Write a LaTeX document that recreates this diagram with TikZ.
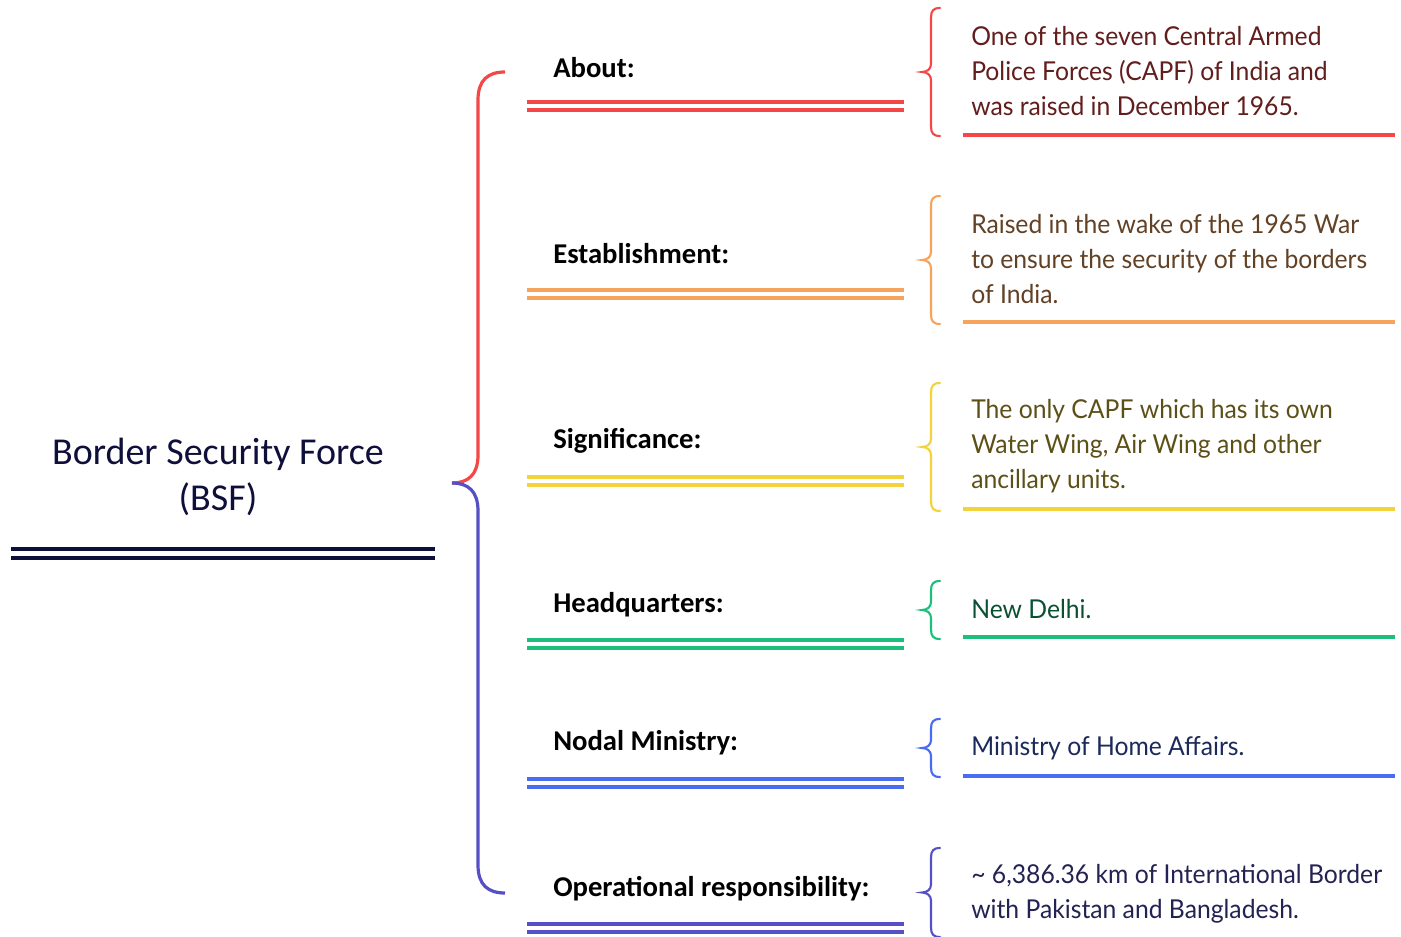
\documentclass[tikz,border=0pt]{standalone}
\usepackage{fontspec}
\setmainfont{Carlito}
\newfontfamily\txtfont[FakeStretch=0.95]{Lato}
\definecolor{cRed}{HTML}{F44848}
\definecolor{cOrange}{HTML}{F6A35E}
\definecolor{cYellow}{HTML}{F4D23C}
\definecolor{cGreen}{HTML}{1EBF7C}
\definecolor{cBlue}{HTML}{4A6CF0}
\definecolor{cPurple}{HTML}{5550C6}
\definecolor{cNavy}{HTML}{0E0F3A}
\newcommand\smallbrace[3]{%
  \draw[#1, line width=1.6pt, line cap=round]
    (940,#2) .. controls (933,#2) and (931,{#2+3}) .. (931,{#2+10})
    -- (931,{(#2+#3)/2-8}) .. controls (931,{(#2+#3)/2-3}) and (927,{(#2+#3)/2}) .. (922,{(#2+#3)/2})
    .. controls (927,{(#2+#3)/2}) and (931,{(#2+#3)/2+3}) .. (931,{(#2+#3)/2+8})
    -- (931,{#3-10}) .. controls (931,{#3-3}) and (933,#3) .. (940,#3);}
\begin{document}
\begin{tikzpicture}[x=0.75pt,y=-0.75pt,
  lbl/.style={anchor=west, inner sep=0pt, font=\fontsize{21.5}{26}\selectfont\bfseries, text=black},
  desc/.style={anchor=west, inner sep=0pt, align=left, font=\txtfont\fontsize{19.5}{26}\selectfont},
  dline/.style={line width=2.4pt},
  uline/.style={line width=2.4pt}]
\useasboundingbox (0,0) rectangle (1401,937);
\fill[white] (0,0) rectangle (1401,937);
% title
\node[align=center, inner sep=0pt, text=cNavy, font=\fontsize{28.5}{34.5}\selectfont] (title) at (218,477) {Border Security Force\\(BSF)};
\draw[cNavy, line width=3.2pt] (11,549) -- (435,549);
\draw[cNavy, line width=3.2pt] (11,558) -- (435,558);
% big brace
\draw[cRed, line width=2.4pt] (505,72) .. controls (488,72) and (478,80) .. (478,100) -- (478,455) .. controls (478,475) and (468,483) .. (452,483);
\draw[cPurple, line width=2.4pt] (452,483) .. controls (468,483) and (478,491) .. (478,511) -- (478,865) .. controls (478,885) and (488,893) .. (505,893);
% labels
\node[lbl] (about) at (553,68) {About:};
\node[lbl] (est) at (553,254) {Establishment:};
\node[lbl] (sig) at (553,441) {Significance:};
\node[lbl] (hq) at (553,605) {Headquarters:};
\node[lbl] (nod) at (553,743) {Nodal Ministry:};
\node[lbl] (ops) at (553,889) {Operational responsibility:};
% label double lines
\foreach \y/\c in {102/cRed,290/cOrange,477/cYellow,640/cGreen,779/cBlue,924/cPurple}{
  \draw[\c, dline] (527,\y) -- (904,\y);
  \draw[\c, dline] (527,\y+8) -- (904,\y+8);
}
% small braces
\smallbrace{cRed}{8}{136}
\smallbrace{cOrange}{196}{324}
\smallbrace{cYellow}{383}{511}
\smallbrace{cGreen}{581}{639}
\smallbrace{cBlue}{719}{777}
\smallbrace{cPurple}{848}{937}
% descriptions
\node[desc, text=cRed!40!black] (dabout) at (971,71) {One of the seven Central Armed\\Police Forces (CAPF) of India and\\was raised in December 1965.};
\node[desc, text=cOrange!40!black] (dest) at (971,259) {Raised in the wake of the 1965 War\\to ensure the security of the borders\\of India.};
\node[desc, text=cYellow!38!black] (dsig) at (971,446) {The only CAPF which has its own\\Water Wing, Air Wing and other\\ancillary units.};
\node[desc, text=cGreen!42!black] (dhq) at (971,609) {New Delhi.};
\node[desc, text=cBlue!38!black] (dnod) at (971,748) {Ministry of Home Affairs.};
\node[desc, text=cPurple!42!black] (dops) at (971,894) {\textasciitilde{} 6,386.36 km of International Border\\with Pakistan and Bangladesh.};
% underlines
\draw[cRed, uline] (963,135) -- (1395,135);
\draw[cOrange, uline] (963,322) -- (1395,322);
\draw[cYellow, uline] (963,509) -- (1395,509);
\draw[cGreen, uline] (963,637) -- (1395,637);
\draw[cBlue, uline] (963,776) -- (1395,776);
\end{tikzpicture}
\end{document}
